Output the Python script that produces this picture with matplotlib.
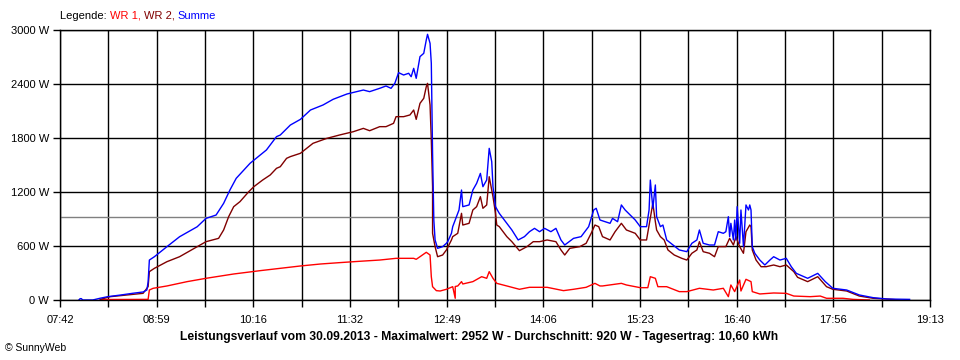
import matplotlib
matplotlib.use("Agg")
import matplotlib.pyplot as plt

plt.rcParams["font.family"] = ["Liberation Sans", "DejaVu Sans"]
plt.rcParams["font.size"] = 8
plt.rcParams["figure.facecolor"] = "white"

# Readings taken off the SunnyWeb day chart (time, watts)
wr1_times = ["08:14", "08:52", "08:53", "08:56", "09:07", "09:23", "09:38", "10:00", "10:21", "10:37",
             "10:53", "11:09", "11:24", "11:40", "11:56", "12:09", "12:23", "12:25", "12:28", "12:33",
             "12:36", "12:37", "12:38", "12:41", "12:44", "12:49", "12:54", "12:56", "12:56", "12:58",
             "13:01", "13:02", "13:10", "13:17", "13:21", "13:23", "13:26", "13:29", "13:37", "13:47",
             "13:55", "14:09", "14:22", "14:30", "14:40", "14:47", "14:51", "14:53", "15:08", "15:12",
             "15:23", "15:29", "15:31", "15:35", "15:37", "15:44", "15:54", "16:00", "16:10", "16:21",
             "16:29", "16:33", "16:35", "16:38", "16:42", "16:43", "16:47", "16:51", "16:52", "16:58",
             "17:09", "17:19", "17:25", "17:38", "17:46", "17:51", "18:04", "18:12", "18:25"]
wr1_watts = [5, 7, 111, 130, 156, 204, 241, 289, 326, 352,
             378, 400, 415, 430, 444, 463, 463, 452, 481, 530,
             500, 259, 148, 104, 100, 119, 148, 19, 150, 156,
             204, 178, 204, 259, 241, 315, 241, 185, 156, 119,
             141, 141, 104, 119, 141, 185, 156, 156, 185, 167,
             137, 137, 259, 241, 148, 148, 93, 93, 130, 111,
             130, 37, 167, 93, 222, 100, 230, 204, 93, 67,
             78, 74, 44, 37, 44, 19, 19, 7, 0]

wr2_times = ["08:14", "08:22", "08:48", "08:52", "08:53", "08:57", "09:07", "09:17", "09:31", "09:38",
             "09:48", "09:52", "09:56", "10:00", "10:05", "10:12", "10:16", "10:23", "10:29", "10:34",
             "10:37", "10:42", "10:45", "10:53", "11:03", "11:14", "11:24", "11:35", "11:43", "11:48",
             "11:56", "12:01", "12:07", "12:09", "12:15", "12:20", "12:23", "12:25", "12:28", "12:31",
             "12:33", "12:34", "12:36", "12:37", "12:38", "12:38", "12:40", "12:42", "12:46", "12:49",
             "12:53", "12:54", "12:58", "13:01", "13:02", "13:07", "13:10", "13:13", "13:16", "13:18",
             "13:21", "13:23", "13:25", "13:26", "13:28", "13:29", "13:31", "13:37", "13:41", "13:47",
             "13:53", "13:58", "14:03", "14:09", "14:16", "14:20", "14:23", "14:27", "14:35", "14:40",
             "14:44", "14:47", "14:50", "14:53", "14:59", "15:03", "15:08", "15:12", "15:19", "15:23",
             "15:28", "15:31", "15:33", "15:35", "15:36", "15:39", "15:42", "15:45", "15:50", "15:56",
             "16:00", "16:04", "16:08", "16:10", "16:13", "16:18", "16:22", "16:25", "16:31", "16:34",
             "16:37", "16:39", "16:42", "16:45", "16:47", "16:50", "16:51", "16:52", "16:55", "16:59",
             "17:03", "17:09", "17:14", "17:19", "17:25", "17:28", "17:36", "17:44", "17:51", "17:56",
             "18:07", "18:17", "18:28", "18:39", "18:49"]
wr2_watts = [7, 37, 74, 148, 315, 352, 426, 481, 593, 648,
             685, 778, 926, 1037, 1093, 1204, 1259, 1333, 1389, 1463,
             1481, 1574, 1593, 1630, 1741, 1796, 1833, 1870, 1907, 1881,
             1926, 1926, 1963, 2037, 2037, 2056, 2111, 2007, 2185, 2241,
             2370, 2407, 2167, 1778, 1259, 741, 593, 481, 500, 556,
             667, 704, 741, 963, 833, 852, 1000, 1037, 1148, 1019,
             1056, 1370, 1222, 1148, 963, 833, 815, 704, 648, 548,
             593, 648, 648, 667, 648, 556, 500, 574, 593, 630,
             741, 833, 815, 704, 667, 759, 852, 778, 741, 667,
             667, 907, 1074, 870, 778, 704, 667, 556, 500, 463,
             444, 519, 556, 648, 537, 519, 481, 593, 593, 685,
             611, 704, 593, 519, 759, 833, 815, 556, 444, 370,
             370, 389, 370, 389, 315, 252, 204, 259, 148, 119,
             100, 44, 19, 11, 0]

sum_times = ["07:57", "07:58", "07:59", "08:00", "08:08", "08:14", "08:20", "08:30", "08:40", "08:48",
             "08:51", "08:52", "08:53", "08:57", "09:07", "09:17", "09:31", "09:38", "09:46", "09:52",
             "09:57", "10:02", "10:13", "10:26", "10:34", "10:37", "10:45", "10:53", "11:01", "11:11",
             "11:19", "11:30", "11:43", "11:48", "11:56", "12:01", "12:05", "12:08", "12:11", "12:15",
             "12:19", "12:21", "12:23", "12:25", "12:28", "12:31", "12:33", "12:34", "12:36", "12:37",
             "12:38", "12:39", "12:40", "12:42", "12:46", "12:49", "12:50", "12:53", "12:54", "12:56",
             "12:59", "13:01", "13:02", "13:07", "13:10", "13:13", "13:16", "13:18", "13:21", "13:23",
             "13:25", "13:26", "13:28", "13:31", "13:37", "13:41", "13:46", "13:51", "13:55", "13:59",
             "14:03", "14:07", "14:12", "14:16", "14:20", "14:23", "14:30", "14:36", "14:42", "14:46",
             "14:48", "14:51", "14:59", "15:01", "15:05", "15:08", "15:11", "15:15", "15:19", "15:23",
             "15:28", "15:30", "15:31", "15:33", "15:35", "15:36", "15:39", "15:41", "15:44", "15:49",
             "15:54", "16:00", "16:04", "16:08", "16:10", "16:13", "16:18", "16:22", "16:25", "16:29",
             "16:31", "16:33", "16:34", "16:35", "16:37", "16:38", "16:39", "16:40", "16:42", "16:43",
             "16:45", "16:47", "16:49", "16:50", "16:51", "16:52", "16:54", "16:58", "17:02", "17:06",
             "17:09", "17:14", "17:19", "17:23", "17:27", "17:36", "17:44", "17:50", "17:56", "18:07",
             "18:17", "18:28", "18:39", "18:57"]
sum_watts = [0, 15, 15, 0, 0, 20, 37, 55, 75, 89,
             111, 200, 444, 481, 593, 703, 814, 907, 944, 1074,
             1222, 1352, 1519, 1667, 1815, 1833, 1944, 2007, 2111, 2167,
             2230, 2289, 2333, 2315, 2352, 2378, 2352, 2407, 2526, 2500,
             2519, 2481, 2574, 2463, 2704, 2741, 2889, 2952, 2852, 2630,
             1630, 889, 667, 574, 593, 630, 648, 741, 815, 889,
             1000, 1222, 1037, 1056, 1222, 1296, 1407, 1259, 1333, 1685,
             1537, 1259, 1037, 963, 852, 778, 667, 704, 759, 796,
             759, 796, 759, 796, 667, 611, 685, 704, 815, 1000,
             1019, 889, 852, 907, 870, 1056, 1000, 944, 889, 815,
             815, 1000, 1333, 1019, 1278, 926, 815, 833, 667, 611,
             556, 537, 630, 667, 778, 630, 611, 611, 759, 741,
             759, 926, 704, 852, 667, 889, 667, 1037, 630, 1000,
             593, 1056, 1000, 1056, 1000, 593, 519, 444, 389, 444,
             481, 444, 463, 370, 296, 241, 296, 204, 130, 111,
             56, 26, 11, 7]

x_labels = ["07:42", "08:59", "10:16", "11:32", "12:49", "14:06", "15:23", "16:40", "17:56", "19:13"]
y_ticks = [0, 600, 1200, 1800, 2400, 3000]
average = 920
title = ("Leistungsverlauf vom 30.09.2013 - Maximalwert: 2952 W - "
         "Durchschnitt: 920 W - Tagesertrag: 10,60 kWh")


def minutes(t):
    h, m = t.split(":")
    return int(h) * 60 + int(m)


fig = plt.figure(figsize=(9.6, 3.6), dpi=100)
ax = fig.add_axes([60 / 960, 60 / 360, 870 / 960, 270 / 360])

ax.axhline(average, color="#808080", lw=1, zorder=1.5)
ax.plot([minutes(t) for t in wr1_times], wr1_watts, color="#ff0000", lw=1)
ax.plot([minutes(t) for t in wr2_times], wr2_watts, color="#800000", lw=1)
ax.plot([minutes(t) for t in sum_times], sum_watts, color="#0000ff", lw=1)

#Axes range and ticks
t0 = minutes(x_labels[0])
t1 = minutes(x_labels[-1]) + 0.2
ax.set_xlim(t0, t1)
ax.set_ylim(0, 3000)
major = [t0 + i * (t1 - t0) / 9 for i in range(10)]
minor = [t0 + (i + 0.5) * (t1 - t0) / 9 for i in range(9)]
ax.set_xticks(major)
ax.set_xticklabels(x_labels)
ax.set_xticks(minor, minor=True)
ax.set_yticks(y_ticks)
ax.set_yticklabels([f"{v} W" for v in y_ticks])
ax.tick_params(axis="both", which="both", direction="out", length=5, width=1,
               color="black", labelsize=8, pad=3)
ax.tick_params(axis="x", which="major", pad=6)
ax.grid(True, which="both", color="black", lw=1)
ax.set_axisbelow(True)
for s in ax.spines.values():
    s.set_color("black")
    s.set_linewidth(1)

#Texts
fig.text(479 / 960, 1 - 337 / 360, title, ha="center", va="center",
         fontsize=8.7, fontweight="bold")
fig.text(5 / 960, 1 - 348 / 360, "\u00a9 SunnyWeb", ha="left", va="center", fontsize=7.5)

renderer = fig.canvas.get_renderer()
x = 60
for part, col in [("Legende: ", "black"), ("WR 1, ", "#ff0000"),
                  ("WR 2, ", "#800000"), ("Summe", "#0000ff")]:
    t = fig.text(x / 960, 1 - 16 / 360, part, color=col, ha="left", va="center", fontsize=8)
    x += t.get_window_extent(renderer).width

fig.savefig("out.png", dpi=100)
